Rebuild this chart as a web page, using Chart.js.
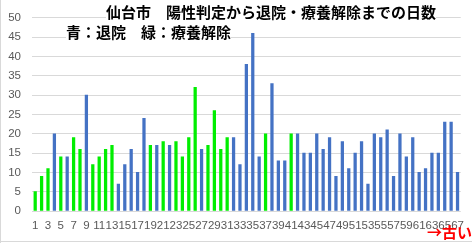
<!DOCTYPE html>
<html><head><meta charset="utf-8">
<script src="https://cdn.jsdelivr.net/npm/chart.js@4/dist/chart.umd.min.js"></script>
<style>
html,body{margin:0;padding:0;background:#fff;}
#wrap{position:relative;width:472px;height:243px;overflow:hidden;}
#wrap canvas{position:absolute;left:0;top:0;}
.t{position:absolute;font-family:"Noto Sans CJK JP",sans-serif;font-weight:bold;color:#000;background:#fff;white-space:nowrap;line-height:17px;font-size:15px;}
#frameL{position:absolute;left:0;top:0;width:1px;height:243px;background:#d9d9d9;}
#frameB{position:absolute;left:0;top:241px;width:472px;height:1px;background:#d9d9d9;}
</style></head>
<body>
<div id="wrap">
<canvas id="c" width="472" height="243"></canvas>
<div id="frameL"></div><div id="frameB"></div>
<div class="t" id="t1" style="left:106px;top:3px;">仙台市　陽性判定から退院・療養解除までの日数</div>
<div class="t" id="t2" style="left:66px;top:23px;">青：退院　緑：療養解除</div>
<div class="t" id="t3" style="left:427px;top:223px;color:#ff0000;background:transparent;font-size:15px;">→古い</div>
</div>
<script>
const categories = Array.from({length: 67}, (_, i) => String(i + 1));
const days = [5,9,11,20,14,14,19,16,30,12,14,16,17,7,12,16,10,24,17,17,
  18,17,18,14,19,32,16,17,26,16,19,19,12,38,46,14,20,33,13,13,
  20,20,15,15,20,16,19,9,18,11,15,18,7,20,19,21,9,20,14,19,
  10,11,15,15,23,23,10];
// G = 療養解除 (green), B = 退院 (blue)
const kinds = ['G','G','G','B','G','B','G','G','B','G','G','G','G','B','B','B','B','B','G','B',
  'G','B','G','G','G','G','B','G','G','G','G','B','B','B','B','B','G','B','B','B',
  'G','B','B','B','B','B','B','B','B','B','B','B','B','B','B','B','B','B','B','B',
  'B','B','B','B','B','B','B'];
const yTicks = [0,5,10,15,20,25,30,35,40,45,50];
const colorOf = {G: '#00ee00', B: '#4472c4'};

new Chart(document.getElementById('c'), {
  type: 'bar',
  data: {
    labels: categories,
    datasets: [{
      data: days,
      backgroundColor: kinds.map(k => colorOf[k]),
      barThickness: 2.6,
      borderWidth: 0
    }]
  },
  options: {
    responsive: false,
    animation: false,
    devicePixelRatio: 1,
    layout: {padding: {left: 0, right: 9, top: 12, bottom: 0}},
    plugins: {legend: {display: false}, tooltip: {enabled: false}, title: {display: false}},
    scales: {
      x: {
        grid: {display: false, drawTicks: false},
        border: {display: false},
        ticks: {
          autoSkip: false, maxRotation: 0, minRotation: 0,
          color: '#595959', padding: 8,
          font: {family: 'Liberation Sans', size: 11.5},
          callback: (v, i) => (i % 2 === 0 ? categories[i] : '')
        },
        afterFit: s => { s.height = 32; }
      },
      y: {
        min: 0, max: 50,
        afterBuildTicks: s => { s.ticks = yTicks.map(v => ({value: v})); },
        grid: {color: '#d9d9d9', drawTicks: false, lineWidth: 1},
        border: {display: false},
        ticks: {color: '#595959', padding: 11, font: {family: 'Liberation Sans', size: 11.5}},
        afterFit: s => { s.width = 32; }
      }
    }
  }
});
</script>
</body></html>
